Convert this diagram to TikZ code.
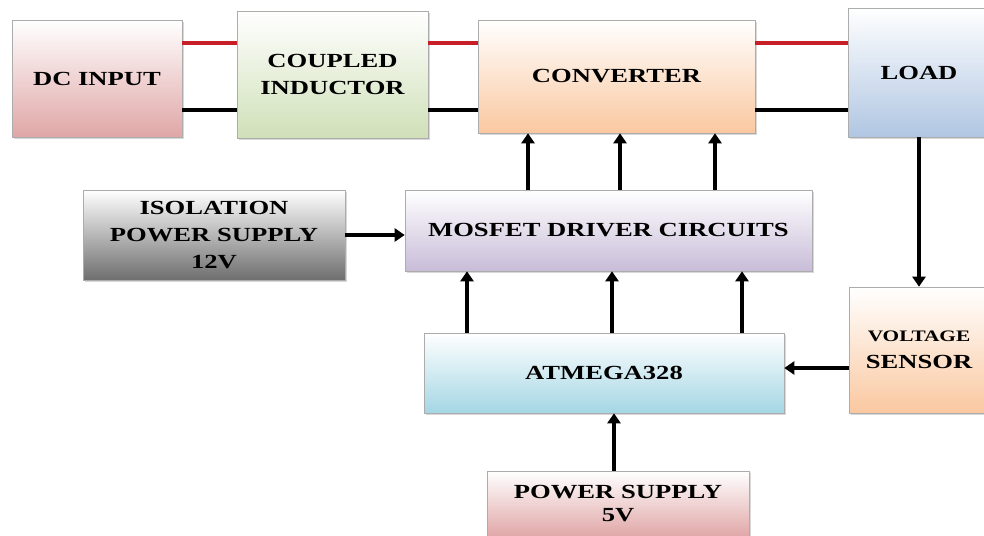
\documentclass[tikz,border=0pt]{standalone}
\usepackage{fontspec}
\setmainfont{Liberation Serif}[FakeStretch=1.33]
\usetikzlibrary{arrows.meta,shadows}

\definecolor{dcpink}{RGB}{224,166,166}
\definecolor{indgreen}{RGB}{208,224,184}
\definecolor{convpeach}{RGB}{250,200,160}
\definecolor{loadblue}{RGB}{176,198,226}
\definecolor{isogray}{RGB}{110,110,110}
\definecolor{mospurple}{RGB}{200,188,216}
\definecolor{atmcyan}{RGB}{164,214,228}
\definecolor{wirered}{RGB}{200,30,40}

\begin{document}
\begin{tikzpicture}[x=1pt, y=-1pt,
    blk/.style={draw=gray!65, line width=0.6pt, top color=white, bottom color=#1,
        align=center, inner sep=0pt, font=\fontsize{20}{27}\selectfont\bfseries,
        drop shadow={shadow xshift=2pt, shadow yshift=-2pt, opacity=0.3}},
    poswire/.style={wirered, line width=3.5pt},
    negwire/.style={black, line width=3.5pt},
    sig/.style={line width=3.5pt, -{Triangle[length=10pt, width=13pt]}}]
    \fill[white] (0,0) rectangle (984,535);
    \useasboundingbox (0,0) rectangle (984,535);

    % power path
    \node[blk=dcpink, minimum width=170, minimum height=117] (dcin) at (97,78.5) {DC INPUT};
    \node[blk=indgreen, minimum width=191, minimum height=127] (coup) at (332.5,74.5) {COUPLED\\INDUCTOR};
    \node[blk=convpeach, minimum width=277, minimum height=113] (conv) at (616.5,76.5) {CONVERTER};
    \node[blk=loadblue, minimum width=142, minimum height=129] (load) at (919,72.5) {LOAD};

    % control path
    \node[blk=isogray, minimum width=262, minimum height=90] (iso) at (214,235) {ISOLATION\\POWER SUPPLY\\12V};
    \node[blk=mospurple, minimum width=407, minimum height=81] (mos) at (608.5,230.5) {MOSFET DRIVER CIRCUITS};
    \node[blk=atmcyan, minimum width=360, minimum height=80] (atm) at (604,373) {ATMEGA328};
    \node[blk=convpeach, minimum width=140, minimum height=126] (sens) at (919,350) {{\fontsize{16}{20}\selectfont VOLTAGE}\\SENSOR};
    \node[blk=dcpink, minimum width=262, minimum height=66, font=\fontsize{20}{23}\selectfont\bfseries] (ps) at (618,504) {POWER SUPPLY\\5V};

    \coordinate (pos) at (0,43);
    \coordinate (neg) at (0,110);
    \foreach \a/\b in {dcin/coup, coup/conv, conv/load} {
        \draw[poswire] (\a.east |- pos) -- (\b.west |- pos);
        \draw[negwire] (\a.east |- neg) -- (\b.west |- neg);
    }

    \foreach \x in {528,620,715} {
        \draw[sig] (mos.north -| \x,0) -- (conv.south -| \x,0);
    }
    \foreach \x in {467,612,742} {
        \draw[sig] (atm.north -| \x,0) -- (mos.south -| \x,0);
    }
    \draw[sig] (iso.east) -- (mos.west |- iso.east);
    \draw[sig] (load.south) -- (sens.north);
    \draw[sig] (sens.west |- 0,368) -- (atm.east |- 0,368);
    \draw[sig] (ps.north -| 614,0) -- (atm.south -| 614,0);
\end{tikzpicture}
\end{document}
